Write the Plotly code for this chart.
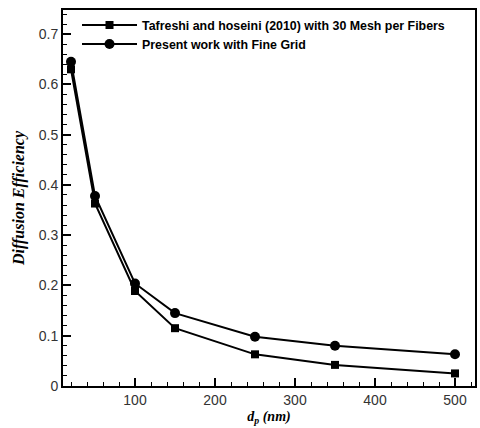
import plotly.graph_objects as go

dp = [20, 50, 100, 150, 250, 350, 500]
tafreshi = [0.630, 0.363, 0.189, 0.115, 0.063, 0.042, 0.025]
present = [0.645, 0.378, 0.204, 0.145, 0.098, 0.080, 0.063]

name1 = "Tafreshi and hoseini (2010) with 30 Mesh per Fibers"
name2 = "Present work with Fine Grid"

fig = go.Figure()
fig.add_trace(go.Scatter(x=dp, y=tafreshi, mode="lines+markers", name=name1,
                         line=dict(color="black", width=2),
                         marker=dict(symbol="square", size=8, color="black")))
fig.add_trace(go.Scatter(x=dp, y=present, mode="lines+markers", name=name2,
                         line=dict(color="black", width=2),
                         marker=dict(symbol="circle", size=10, color="black")))

tickfont = dict(family="Liberation Sans, Arial", size=14, color="#333333")
fig.update_layout(
    width=480, height=428,
    margin=dict(l=63, r=3, t=10, b=42),
    paper_bgcolor="white", plot_bgcolor="white",
    showlegend=True,
    legend=dict(x=0.034, y=0.999, xanchor="left", yanchor="top",
                bgcolor="rgba(0,0,0,0)", itemwidth=55,
                font=dict(family="Liberation Sans, Arial", size=12.4, color="black", weight="bold"),
                tracegroupgap=0),
    xaxis=dict(range=[10, 525], tickvals=[100, 200, 300, 400, 500],
               ticks="inside", ticklen=8, tickwidth=2, tickcolor="black",
               minor=dict(dtick=20, tick0=0, ticks="inside", ticklen=4, tickwidth=1, tickcolor="black"),
               showline=True, linecolor="black", linewidth=2, mirror=True,
               showgrid=False, zeroline=False, tickfont=tickfont,
               title=dict(text="<b><i>d<sub>p</sub> (nm)</i></b>", standoff=4,
                          font=dict(family="Liberation Serif, Times New Roman", size=14, color="black"))),
    yaxis=dict(range=[0, 0.748], tickvals=[0, 0.1, 0.2, 0.3, 0.4, 0.5, 0.6, 0.7],
               ticktext=["0", "0.1", "0.2", "0.3", "0.4", "0.5", "0.6", "0.7"],
               ticks="inside", ticklen=8, tickwidth=2, tickcolor="black",
               minor=dict(dtick=0.02, tick0=0, ticks="inside", ticklen=4, tickwidth=1, tickcolor="black"),
               showline=True, linecolor="black", linewidth=2, mirror=True,
               showgrid=False, zeroline=False, tickfont=tickfont,
               title=dict(text="<b><i>Diffusion Efficiency</i></b>", standoff=10,
                          font=dict(family="Liberation Serif, Times New Roman", size=16, color="black"))),
)

fig.write_html("out.html", config={"displayModeBar": False},
               post_script="document.body.style.margin='0';document.body.style.overflow='hidden';")
